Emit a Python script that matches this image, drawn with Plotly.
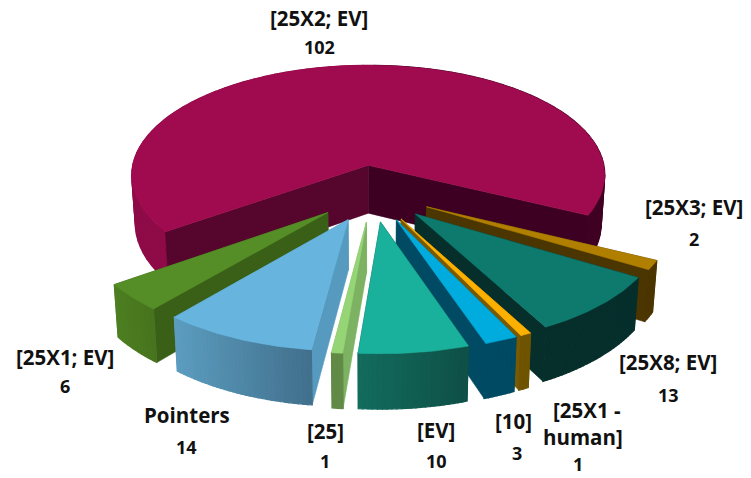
import math
import plotly.graph_objects as go

# Data, clockwise from the top-left edge of the gap
names = ["[25X2; EV]", "[25X3; EV]", "[25X8; EV]", "[25X1 - human]", "[10]", "[EV]", "[25]", "Pointers", "[25X1; EV]"]
values = [102, 2, 13, 1, 3, 10, 1, 14, 6]
top_colors = ["#A00B4F", "#B07F00", "#0E7A6E", "#FDB000", "#00ACDD", "#19B19B", "#96D576", "#67B5DF", "#558E27"]
wall_colors = ["#4A0329", "#4B3500", "#062F2C", "#7A5A00", "#004B63", "#0F4F46", "#7CB262", "#569BBF", "#3A5F17"]
rim_left = ["#8E0B48", "#4B3500", "#062F2C", "#6E5300", "#004A63", "#126C5E", "#618A47", "#5C9DC0", "#4E7F22"]
rim_right = ["#400022", "#4B3500", "#062F2C", "#6E5300", "#004A63", "#0F4F46", "#618A47", "#41708C", "#47741E"]

# label text pieces: (text, x, y, is value)
labels = [
    ("[25X2; EV]", 319, 18, 0), ("102", 319, 47, 1),
    ("[25X3; EV]", 694, 207, 0), ("2", 694, 239, 1),
    ("[25X8; EV]", 668, 362, 0), ("13", 668, 395, 1),
    ("[25X1 -", 587, 410, 0), ("human]", 583, 437, 0), ("1", 578, 464, 1),
    ("[10]", 513, 421, 0), ("3", 517, 453, 1),
    ("[EV]", 436, 430, 0), ("10", 436, 461, 1),
    ("[25]", 325, 431, 0), ("1", 325, 461, 1),
    ("Pointers", 187, 415, 0), ("14", 186, 447, 1),
    ("[25X1; EV]", 65, 357, 0), ("6", 65, 386, 1),
]

# Projection of the exploded pie
CX, CY, A, B, P, E, H = 373, 193, 241, 114, 0.092, 0.25, 49
BOTTOM_X = 0.985
GAP_START = 116.2
total = sum(values)


def project(X, Z, low=False):
    s = 1 / (1 - P * Z)
    x = A * X * s
    y = CY + B * Z * s
    if low:
        x *= BOTTOM_X
        y += H * s
    return CX + x, y


def mix(c1, c2, t):
    a = [int(c1[i:i + 2], 16) for i in (1, 3, 5)]
    b = [int(c2[i:i + 2], 16) for i in (1, 3, 5)]
    return "#%02x%02x%02x" % tuple(round(u + (v - u) * t) for u, v in zip(a, b))


fig = go.Figure()


def poly(pts, color, lw=0.6):
    xs = [p[0] for p in pts] + [pts[0][0]]
    ys = [p[1] for p in pts] + [pts[0][1]]
    fig.add_trace(go.Scatter(x=xs, y=ys, mode="lines", fill="toself", fillcolor=color,
                             line=dict(color=color, width=lw), hoverinfo="skip", showlegend=False))


slices = []
angle = GAP_START - values[0] * 360 / total
for i, v in enumerate(values):
    span = v * 360 / total
    slices.append((i, angle, angle + span))
    angle += span


def slice_depth(s):
    mid = math.radians((s[1] + s[2]) / 2)
    return -math.cos(mid)


for i, a0, a1 in sorted(slices, key=slice_depth):
    mid = math.radians((a0 + a1) / 2)
    ox, oz = E * math.sin(mid), -E * math.cos(mid)
    n = max(2, int((a1 - a0) / (3 if i == 0 else 1)))
    angs = [a0 + (a1 - a0) * k / n for k in range(n + 1)]
    arc = [(ox + math.sin(math.radians(t)), oz - math.cos(math.radians(t))) for t in angs]
    wall_list = sorted(enumerate([arc[0], arc[-1]]), key=lambda e: e[1][1])

    def draw_walls():
        for w, pt in wall_list:
            col = wall_colors[i]
            if i == 0:
                col = "#56052D" if w == 0 else "#3D0022"
            poly([project(ox, oz), project(*pt), project(*pt, low=True), project(ox, oz, low=True)], col)

    if i != 0:
        draw_walls()

    order = sorted(range(n), key=lambda k: arc[k][1] + arc[k + 1][1])
    xmin = min(p[0] for p in arc)
    xmax = max(p[0] for p in arc)
    for k in order:
        p, q = arc[k], arc[k + 1]
        if i == 0:
            col = rim_right[0] if p[0] > 0 else rim_left[0]
        else:
            t = ((p[0] + q[0]) / 2 - xmin) / (xmax - xmin or 1)
            col = mix(rim_left[i], rim_right[i], t)
        poly([project(*p), project(*q), project(*q, low=True), project(*p, low=True)], col, 1.2)

    if i == 0:
        draw_walls()

    poly([project(ox, oz)] + [project(*p) for p in arc], top_colors[i])

for text, x, y, is_value in labels:
    fig.add_annotation(x=x, y=y, text=f"<b>{text}</b>", showarrow=False, xanchor="center", yanchor="middle",
                       font=dict(family="Open Sans", size=18 if is_value else 20.5, color="#111111"))

fig.update_layout(
    width=751, height=478, margin=dict(l=0, r=0, t=0, b=0),
    paper_bgcolor="white", plot_bgcolor="white", showlegend=False,
    xaxis=dict(range=[0, 751], visible=False),
    yaxis=dict(range=[478, 0], visible=False),
)
fig.write_html("out.html", config=dict(displayModeBar=False),
               post_script="document.body.style.margin='0';document.body.style.overflow='hidden';")
